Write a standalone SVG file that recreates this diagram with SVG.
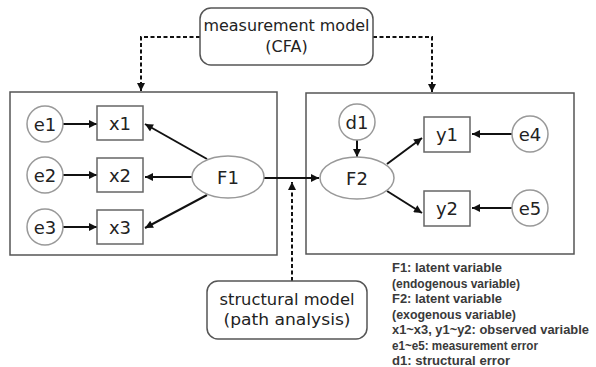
<svg xmlns="http://www.w3.org/2000/svg" width="596" height="367" viewBox="0 0 596 367">
<defs>
<marker id="ah" viewBox="0 0 10 10" refX="10" refY="5" markerWidth="10" markerHeight="8" markerUnits="userSpaceOnUse" orient="auto">
<path d="M0,0 L10,5 L0,10 Z" fill="#111"/>
</marker>
</defs>
<style>
text{font-family:"DejaVu Sans","Liberation Sans",Arial,sans-serif;fill:#222;text-anchor:middle}
.lbl{font-size:18px}
.big{font-size:16px}
.leg{font-family:"Liberation Sans",Arial,sans-serif;font-size:12px;text-anchor:start;fill:#3a3a3a;font-weight:bold}
.cont{fill:none;stroke:#555;stroke-width:1.5}
.circ{fill:#fff;stroke:#999;stroke-width:1.5}
.rect{fill:#fff;stroke:#666;stroke-width:1.5}
.ell{fill:#fff;stroke:#999;stroke-width:1.5}
.cap{fill:#fff;stroke:#555;stroke-width:1.5}
.arr{stroke:#111;stroke-width:2;fill:none;marker-end:url(#ah)}
.dash{stroke:#111;stroke-width:2;fill:none;stroke-dasharray:4,2.5;marker-end:url(#ah)}
</style>
<rect width="596" height="367" fill="#fff"/>
<g id="containers">
<rect class="cont" x="10" y="92" width="267" height="163"/>
<rect class="cont" x="306" y="93" width="268" height="161"/>
</g>
<g id="connectors">
<path class="dash" d="M200,37 H141 V91"/>
<path class="dash" d="M373,37 H432 V92"/>
<path class="dash" d="M292,281 V182"/>
<line class="arr" x1="63" y1="124" x2="97" y2="124"/>
<line class="arr" x1="63" y1="175" x2="97" y2="175"/>
<line class="arr" x1="63" y1="227" x2="97" y2="227"/>
<line class="arr" x1="207" y1="159" x2="145" y2="124"/>
<line class="arr" x1="192" y1="177" x2="145" y2="177"/>
<line class="arr" x1="207" y1="195" x2="145" y2="228"/>
<line class="arr" x1="264" y1="178" x2="319" y2="178"/>
<line class="arr" x1="357" y1="140" x2="357" y2="157"/>
<line class="arr" x1="387" y1="164" x2="422" y2="138"/>
<line class="arr" x1="387" y1="191" x2="422" y2="213"/>
<line class="arr" x1="512" y1="134" x2="472" y2="134"/>
<line class="arr" x1="512" y1="208" x2="472" y2="208"/>
</g>
<g id="measurement">
<rect class="cap" x="200" y="8" width="173" height="57" rx="11"/>
<text class="big" x="286.5" y="31" textLength="166" lengthAdjust="spacingAndGlyphs">measurement model</text>
<text class="big" x="286.5" y="52">(CFA)</text>
</g>
<g id="structural">
<rect class="cap" x="207" y="281" width="160" height="58" rx="11"/>
<text class="big" x="287" y="305" textLength="135" lengthAdjust="spacingAndGlyphs">structural model</text>
<text class="big" x="287" y="325" textLength="127" lengthAdjust="spacingAndGlyphs">(path analysis)</text>
</g>
<g id="e1"><circle class="circ" cx="45" cy="124" r="18"/><text class="lbl" x="45" y="130.5">e1</text></g>
<g id="e2"><circle class="circ" cx="45" cy="175" r="18"/><text class="lbl" x="45" y="181.5">e2</text></g>
<g id="e3"><circle class="circ" cx="45" cy="227" r="18"/><text class="lbl" x="45" y="233.5">e3</text></g>
<g id="x1"><rect class="rect" x="97" y="106" width="46" height="34"/><text class="lbl" x="120" y="129.5">x1</text></g>
<g id="x2"><rect class="rect" x="97" y="158" width="46" height="34"/><text class="lbl" x="120" y="181.5">x2</text></g>
<g id="x3"><rect class="rect" x="97" y="210" width="46" height="34"/><text class="lbl" x="120" y="233.5">x3</text></g>
<g id="F1"><ellipse class="ell" cx="228" cy="177" rx="36" ry="21"/><text class="lbl" x="228" y="183.5">F1</text></g>
<g id="F2"><ellipse class="ell" cx="357" cy="178" rx="37" ry="21"/><text class="lbl" x="357" y="184.5">F2</text></g>
<g id="d1"><circle class="circ" cx="357" cy="122" r="18"/><text class="lbl" x="357" y="128.5">d1</text></g>
<g id="y1"><rect class="rect" x="424" y="117" width="46" height="35"/><text class="lbl" x="447" y="140.5">y1</text></g>
<g id="y2"><rect class="rect" x="424" y="191" width="46" height="35"/><text class="lbl" x="447" y="214.5">y2</text></g>
<g id="e4"><circle class="circ" cx="530" cy="134" r="18"/><text class="lbl" x="530" y="140.5">e4</text></g>
<g id="e5"><circle class="circ" cx="530" cy="208" r="18"/><text class="lbl" x="530" y="214.5">e5</text></g>
<g id="legend">
<text class="leg" x="392" y="272" textLength="110" lengthAdjust="spacingAndGlyphs">F1: latent variable</text>
<text class="leg" x="392" y="287.5" textLength="128" lengthAdjust="spacingAndGlyphs">(endogenous variable)</text>
<text class="leg" x="392" y="303" textLength="110" lengthAdjust="spacingAndGlyphs">F2: latent variable</text>
<text class="leg" x="392" y="318.5" textLength="124" lengthAdjust="spacingAndGlyphs">(exogenous variable)</text>
<text class="leg" x="392" y="334" textLength="197" lengthAdjust="spacingAndGlyphs">x1~x3, y1~y2: observed variable</text>
<text class="leg" x="392" y="349.5" textLength="146" lengthAdjust="spacingAndGlyphs">e1~e5: measurement error</text>
<text class="leg" x="392" y="364.5" textLength="118" lengthAdjust="spacingAndGlyphs">d1: structural error</text>
</g>
</svg>
